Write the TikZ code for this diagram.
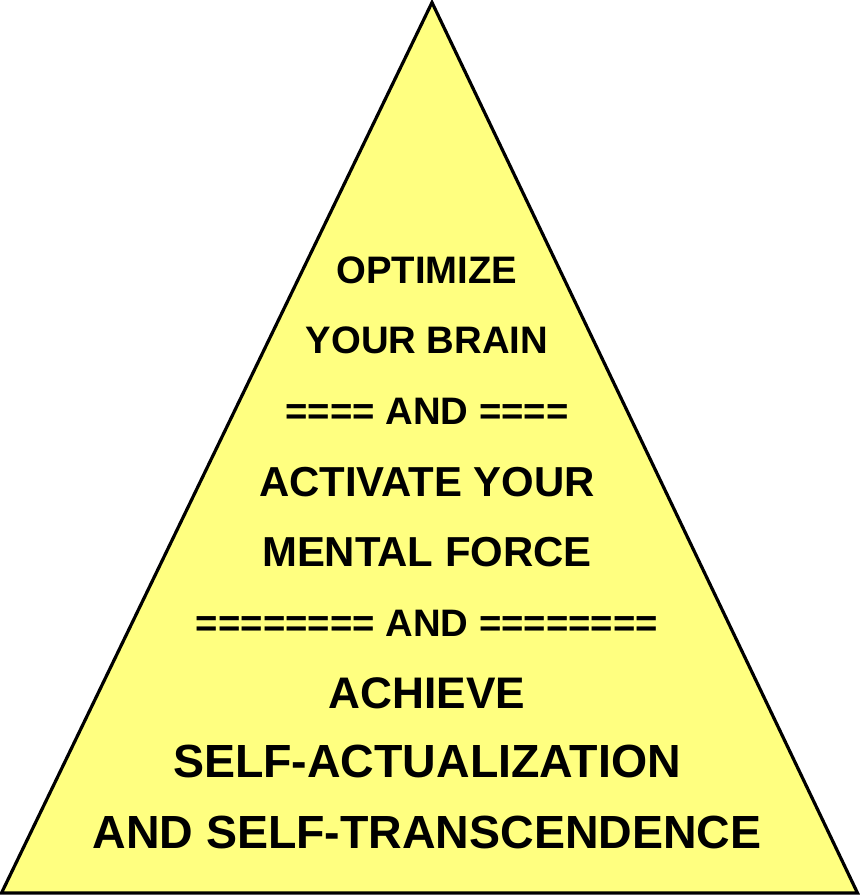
\documentclass[tikz,border=0pt]{standalone}
\usepackage{fontspec}
\setmainfont{Liberation Sans}
\usepackage{xcolor}
\usepackage{tikz}
\usetikzlibrary{positioning}
\definecolor{pyramidYellow}{RGB}{255,255,128}
\definecolor{pyramidEdge}{RGB}{0,0,0}

\begin{document}
\begin{tikzpicture}[x=1pt,y=-1pt,
  line/.style={anchor=base,inner sep=0pt,font=\bfseries\fontsize{#1}{#1}\selectfont}]
\useasboundingbox (0,0) rectangle (859,896);
\draw[pyramidEdge, line width=3.2pt, fill=pyramidYellow, line join=miter]
  (432,2.5) -- (857.5,893) -- (1.5,893) -- cycle;
\node[line=38.3] (optimize) at (427,283) {OPTIMIZE};
\node[line=38.3] (brain) at (427,353) {YOUR BRAIN};
\node[line=38.3] (andone) at (427,424) {==== AND ====};
\node[line=41.9] (activate) at (427,496) {ACTIVATE YOUR};
\node[line=41.9] (force) at (427,566) {MENTAL FORCE};
\node[line=38.3] (andtwo) at (427,636) {======== AND ========};
\node[line=44.2] (achieve) at (427,708) {ACHIEVE};
\node[line=46.5] (actual) at (427,777) {SELF-ACTUALIZATION};
\node[line=46.5] (transc) at (427,848) {AND SELF-TRANSCENDENCE};
\end{tikzpicture}
\end{document}
